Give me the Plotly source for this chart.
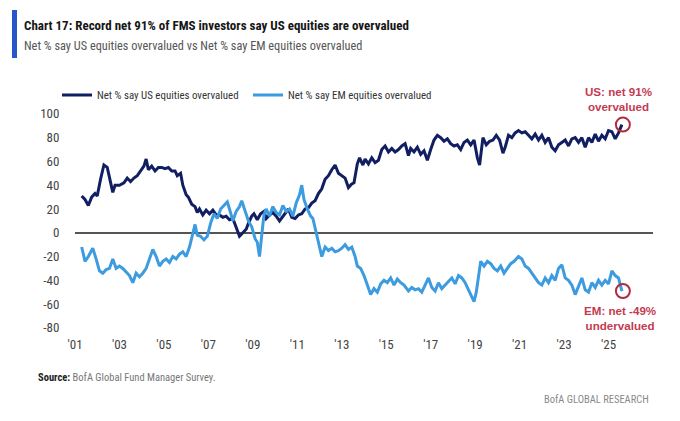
import plotly.graph_objects as go

# ---------------- data ----------------
us_years = [2001.3, 2001.45, 2001.6, 2001.75, 2001.9, 2002.0, 2002.15, 2002.3, 2002.45, 2002.55,
            2002.7, 2002.8, 2003.0, 2003.2, 2003.35, 2003.5, 2003.65, 2003.8, 2003.95, 2004.1,
            2004.2, 2004.3, 2004.45, 2004.6, 2004.75, 2004.9, 2005.05, 2005.2, 2005.35, 2005.5,
            2005.6, 2005.75, 2005.85, 2006.0, 2006.1, 2006.25, 2006.4, 2006.5, 2006.6, 2006.75,
            2006.9, 2007.05, 2007.2, 2007.35, 2007.5, 2007.65, 2007.8, 2007.95, 2008.1, 2008.25,
            2008.4, 2008.55, 2008.7, 2008.8, 2008.95, 2009.05, 2009.2, 2009.35, 2009.5, 2009.6,
            2009.75, 2009.9, 2010.05, 2010.2, 2010.35, 2010.5, 2010.6, 2010.75, 2010.9, 2011.05,
            2011.2, 2011.35, 2011.5, 2011.65, 2011.8, 2011.95, 2012.1, 2012.25, 2012.4, 2012.55,
            2012.7, 2012.85, 2013.0, 2013.15, 2013.3, 2013.45, 2013.55, 2013.7, 2013.8, 2013.95,
            2014.05, 2014.2, 2014.35, 2014.5, 2014.65, 2014.8, 2014.95, 2015.1, 2015.25, 2015.4,
            2015.55, 2015.7, 2015.85, 2016.0, 2016.1, 2016.25, 2016.4, 2016.55, 2016.7, 2016.85,
            2017.0, 2017.15, 2017.3, 2017.45, 2017.6, 2017.75, 2017.9, 2018.05, 2018.2, 2018.35,
            2018.5, 2018.65, 2018.8, 2018.95, 2019.1, 2019.2, 2019.35, 2019.5, 2019.65, 2019.8,
            2019.95, 2020.1, 2020.25, 2020.35, 2020.5, 2020.65, 2020.8, 2020.95, 2021.1, 2021.25,
            2021.4, 2021.55, 2021.7, 2021.85, 2022.0, 2022.15, 2022.3, 2022.45, 2022.6, 2022.75,
            2022.9, 2023.05, 2023.2, 2023.35, 2023.5, 2023.65, 2023.8, 2023.95, 2024.1, 2024.25,
            2024.4, 2024.55, 2024.7, 2024.85, 2025.0, 2025.15, 2025.3, 2025.45, 2025.6]
us_values = [31, 28, 23, 30, 33, 31, 45, 57, 55, 46,
             34, 40, 40, 42, 46, 43, 46, 48, 52, 56,
             62, 53, 56, 52, 55, 55, 54, 55, 52, 52,
             48, 50, 40, 32, 30, 24, 22, 17, 20, 15,
             19, 16, 19, 15, 15, 13, 14, 11, 12, 5,
             -3, 0, 3, 8, 14, 16, 11, 16, 18, 12,
             15, 17, 14, 10, 14, 18, 20, 13, 12, 15,
             16, 20, 21, 25, 27, 33, 37, 45, 48, 53,
             57, 50, 48, 46, 38, 41, 42, 58, 63, 57,
             62, 58, 63, 59, 61, 70, 73, 68, 71, 68,
             70, 73, 75, 65, 71, 68, 72, 66, 69, 61,
             70, 78, 82, 80, 77, 79, 75, 73, 74, 70,
             76, 78, 74, 78, 63, 57, 80, 74, 77, 78,
             82, 78, 67, 72, 82, 80, 84, 86, 84, 85,
             82, 79, 83, 78, 82, 76, 80, 72, 69, 74,
             76, 78, 73, 79, 80, 76, 80, 72, 80, 76,
             83, 77, 82, 79, 86, 85, 79, 84, 91]

em_years = [2001.3, 2001.45, 2001.6, 2001.8, 2001.95, 2002.1, 2002.25, 2002.4, 2002.55, 2002.7,
            2002.85, 2003.0, 2003.15, 2003.3, 2003.45, 2003.6, 2003.75, 2003.9, 2004.05, 2004.2,
            2004.35, 2004.5, 2004.65, 2004.8, 2004.95, 2005.1, 2005.25, 2005.4, 2005.55, 2005.7,
            2005.85, 2006.0, 2006.15, 2006.3, 2006.4, 2006.5, 2006.65, 2006.8, 2006.95, 2007.1,
            2007.25, 2007.4, 2007.55, 2007.7, 2007.85, 2007.95, 2008.1, 2008.25, 2008.4, 2008.5,
            2008.65, 2008.8, 2008.95, 2009.1, 2009.2, 2009.3, 2009.4, 2009.5, 2009.6, 2009.75,
            2009.9, 2010.05, 2010.2, 2010.35, 2010.5, 2010.65, 2010.8, 2010.95, 2011.1, 2011.2,
            2011.3, 2011.45, 2011.6, 2011.7, 2011.85, 2011.95, 2012.1, 2012.25, 2012.4, 2012.55,
            2012.7, 2012.85, 2013.0, 2013.15, 2013.3, 2013.45, 2013.6, 2013.7, 2013.85, 2014.0,
            2014.15, 2014.3, 2014.45, 2014.6, 2014.75, 2014.9, 2015.05, 2015.2, 2015.35, 2015.5,
            2015.65, 2015.8, 2016.0, 2016.15, 2016.3, 2016.45, 2016.6, 2016.75, 2016.9, 2017.05,
            2017.2, 2017.35, 2017.5, 2017.65, 2017.8, 2017.95, 2018.1, 2018.25, 2018.4, 2018.55,
            2018.7, 2018.85, 2018.95, 2019.05, 2019.15, 2019.25, 2019.4, 2019.55, 2019.7, 2019.85,
            2020.0, 2020.15, 2020.3, 2020.45, 2020.6, 2020.75, 2020.95, 2021.1, 2021.25, 2021.4,
            2021.55, 2021.7, 2021.85, 2022.0, 2022.15, 2022.3, 2022.45, 2022.6, 2022.75, 2022.9,
            2023.05, 2023.2, 2023.35, 2023.5, 2023.65, 2023.8, 2023.95, 2024.1, 2024.25, 2024.4,
            2024.55, 2024.7, 2024.85, 2025.0, 2025.15, 2025.3, 2025.45, 2025.6]
em_values = [-12, -24, -20, -13, -22, -32, -34, -31, -30, -22,
             -30, -28, -30, -33, -36, -42, -34, -37, -34, -30,
             -22, -14, -20, -28, -24, -22, -25, -20, -22, -18,
             -16, -20, -12, 0, 7, -2, -3, -6, -3, 8,
             16, 12, 20, 23, 26, 20, 10, 18, 22, 27,
             18, 10, 5, -5, -8, -20, -2, 15, 20, 14,
             22, 17, 15, 23, 18, 20, 14, 25, 32, 40,
             28, 20, 14, 12, 0, -8, -20, -12, -15, -13,
             -16, -15, -13, -10, -14, -12, -20, -28, -30, -36,
             -45, -52, -47, -50, -43, -40, -42, -38, -44, -39,
             -42, -44, -49, -46, -48, -47, -50, -44, -38, -46,
             -49, -42, -47, -44, -41, -38, -43, -36, -38, -42,
             -48, -55, -58, -50, -36, -24, -28, -24, -26, -30,
             -32, -28, -34, -30, -26, -24, -20, -22, -28, -30,
             -34, -38, -42, -44, -38, -42, -36, -40, -30, -27,
             -38, -40, -44, -52, -45, -38, -48, -50, -42, -46,
             -40, -44, -40, -43, -32, -36, -38, -49]

tick_years = [2001, 2003, 2005, 2007, 2009, 2011, 2013, 2015, 2017, 2019, 2021, 2023, 2025]
tick_labels = ["'01", "'03", "'05", "'07", "'09", "'11", "'13", "'15", "'17", "'19", "'21", "'23", "'25"]
y_ticks = [100, 80, 60, 40, 20, 0, -20, -40, -60, -80]
y_labels = ["100", "80", "60", "40", "20", "0", "-20", "-40", "-60", "-80"]

us_name = "Net % say US equities overvalued"
em_name = "Net % say EM equities overvalued"
title_text = "Chart 17: Record net 91% of FMS investors say US equities are overvalued"
subtitle_text = "Net % say US equities overvalued vs Net % say EM equities overvalued"

# ---------------- layout geometry ----------------
FW, FH = 680, 421
L, R, T, B = 75, 27, 102, 86
PW, PH = FW - L - R, FH - T - B


def px_x(p):
    return (p - L) / PW


def px_y(p):
    return (FH - B - p) / PH


NAVY = "#111f62"
LIGHT = "#3d9be0"
RED = "#c43a52"
NARROW = "Liberation Sans Narrow, Arial Narrow, Roboto Condensed, Roboto, sans-serif"
SANS = "Liberation Sans, Arial, sans-serif"

fig = go.Figure()
fig.add_trace(go.Scatter(x=us_years, y=us_values, mode="lines", name=us_name,
                         line=dict(color=NAVY, width=3)))
fig.add_trace(go.Scatter(x=em_years, y=em_values, mode="lines", name=em_name,
                         line=dict(color=LIGHT, width=3)))

# circles round the latest readings
for yrs, vals in ((us_years, us_values), (em_years, em_values)):
    fig.add_shape(type="circle", xref="x", yref="y", xsizemode="pixel", ysizemode="pixel",
                  xanchor=yrs[-1], yanchor=vals[-1], x0=-6, x1=8, y0=-7, y1=7,
                  line=dict(color="#b02a40", width=2))

fig.add_annotation(x=us_years[-1], y=us_values[-1], xref="x", yref="y",
                   text="<b>US: net 91%<br>overvalued</b>", showarrow=False,
                   xanchor="center", yanchor="bottom", xshift=-3, yshift=10,
                   font=dict(family=SANS, size=11.6, color=RED), align="center")
fig.add_annotation(x=em_years[-1], y=em_values[-1], xref="x", yref="y",
                   text="<b>EM: net -49%<br>undervalued</b>", showarrow=False,
                   xanchor="center", yanchor="top", xshift=-2, yshift=-11,
                   font=dict(family=SANS, size=11.6, color=RED), align="center")

# titles and footers
fig.add_shape(type="rect", xref="paper", yref="paper",
              x0=px_x(12), x1=px_x(17), y0=px_y(58), y1=px_y(10),
              fillcolor="#2656c9", line=dict(width=0))
fig.add_annotation(xref="paper", yref="paper", x=px_x(22), y=px_y(25),
                   xanchor="left", yanchor="middle", showarrow=False,
                   text="<b>" + title_text + "</b>",
                   font=dict(family=NARROW, size=13, color="#161616"))
fig.add_annotation(xref="paper", yref="paper", x=px_x(22), y=px_y(46),
                   xanchor="left", yanchor="middle", showarrow=False,
                   text=subtitle_text,
                   font=dict(family=NARROW, size=12.3, color="#555555"))
fig.add_annotation(xref="paper", yref="paper", x=px_x(36), y=px_y(377),
                   xanchor="left", yanchor="middle", showarrow=False,
                   text="<b>Source:</b> <span style='color:#777777'>BofA Global Fund Manager Survey.</span>",
                   font=dict(family=NARROW, size=10.5, color="#222222"))
fig.add_annotation(xref="paper", yref="paper", x=px_x(651), y=px_y(399),
                   xanchor="right", yanchor="middle", showarrow=False,
                   text="BofA GLOBAL RESEARCH",
                   font=dict(family=NARROW, size=10.5, color="#8a8a8a"))

fig.update_layout(
    width=FW, height=FH,
    margin=dict(l=L, r=R, t=T, b=B, pad=0, autoexpand=False),
    paper_bgcolor="white", plot_bgcolor="white",
    font=dict(family=NARROW, color="#444444"),
    showlegend=True,
    legend=dict(orientation="h", x=px_x(57), y=px_y(95), xanchor="left", yanchor="middle",
                font=dict(family=NARROW, size=10.9, color="#333333"),
                bgcolor="rgba(0,0,0,0)", entrywidth=146, entrywidthmode="pixels",
                itemwidth=30, tracegroupgap=0),
    xaxis=dict(range=[2001, 2027], tickvals=tick_years, ticktext=tick_labels,
               showgrid=False, zeroline=False, showline=False, ticks="",
               tickfont=dict(family=NARROW, size=13, color="#444444")),
    yaxis=dict(range=[-86, 110], tickvals=y_ticks, ticktext=y_labels,
               showgrid=False, zeroline=True, zerolinecolor="#555555", zerolinewidth=1.5,
               showline=False, ticks="outside", ticklen=12, tickcolor="rgba(0,0,0,0)",
               tickfont=dict(family=NARROW, size=13, color="#444444")),
)

fig.write_html("out.html", config={"displayModeBar": False},
               post_script="document.body.style.margin='0';document.body.style.overflow='hidden';")
